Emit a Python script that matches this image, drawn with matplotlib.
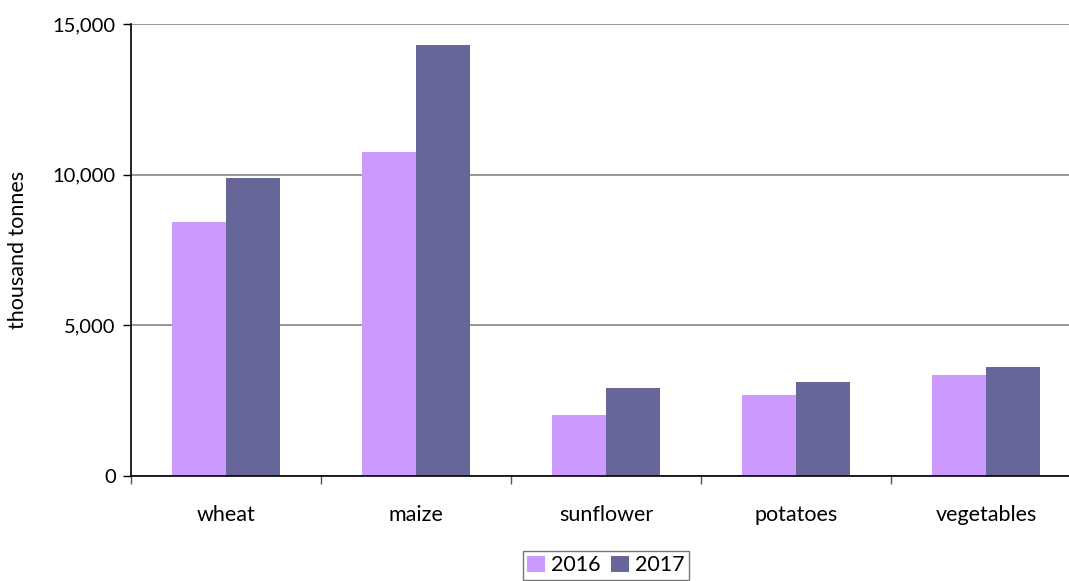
import numpy as np
import matplotlib
matplotlib.use('Agg')
import matplotlib.pyplot as plt
from matplotlib.ticker import FuncFormatter

crops = ['wheat', 'maize', 'sunflower', 'potatoes', 'vegetables']
y2016 = [8440, 10750, 2030, 2690, 3350]
y2017 = [9890, 14300, 2920, 3120, 3620]
years = ['2016', '2017']

plt.rcParams['font.family'] = ['Lato', 'DejaVu Sans']

fig = plt.figure(figsize=(10.69, 5.81), dpi=100)
ax = fig.add_axes([131 / 1069, 105 / 581, 950 / 1069, 452 / 581])

x = np.arange(len(crops))
w = 0.285
ax.bar(x - w / 2, y2016, w, color='#CC99FF', label=years[0], zorder=2)
ax.bar(x + w / 2, y2017, w, color='#666699', label=years[1], zorder=2)

ax.set_xlim(-0.5, len(crops) - 0.5)
ax.set_ylim(0, 15000)
ax.set_yticks([0, 5000, 10000, 15000])
ax.yaxis.set_major_formatter(FuncFormatter(lambda v, p: f'{int(v):,}'))
ax.grid(axis='y', color='#868686', linewidth=1.2, zorder=0)

# boundary ticks on x, labels in the middle
ax.set_xticks(np.arange(len(crops) + 1) - 0.5)
ax.set_xticklabels([])
ax.set_xticks(x, minor=True)
ax.set_xticklabels(crops, minor=True)
ax.tick_params(axis='x', which='minor', length=0, pad=21, labelsize=15.5)
ax.tick_params(axis='x', which='major', length=6, width=1, color='#555555')
ax.tick_params(axis='y', length=6, width=1, labelsize=14.5, pad=5)

for s in ['top', 'right']:
    ax.spines[s].set_visible(False)
ax.spines['left'].set_linewidth(1.2)
ax.spines['bottom'].set_linewidth(1.2)

ax.set_ylabel('thousand tonnes', fontsize=15.5, labelpad=18)

leg = fig.legend(loc='upper center', bbox_to_anchor=(606 / 1069, 30 / 581), ncol=2,
                 frameon=True, fancybox=False, edgecolor='#555555', fontsize=15.5,
                 handlelength=0.8, handleheight=0.8, handletextpad=0.3,
                 columnspacing=0.5, borderpad=0.2, borderaxespad=0)
leg.get_frame().set_linewidth(1)

plt.savefig('out.png', dpi=100)
